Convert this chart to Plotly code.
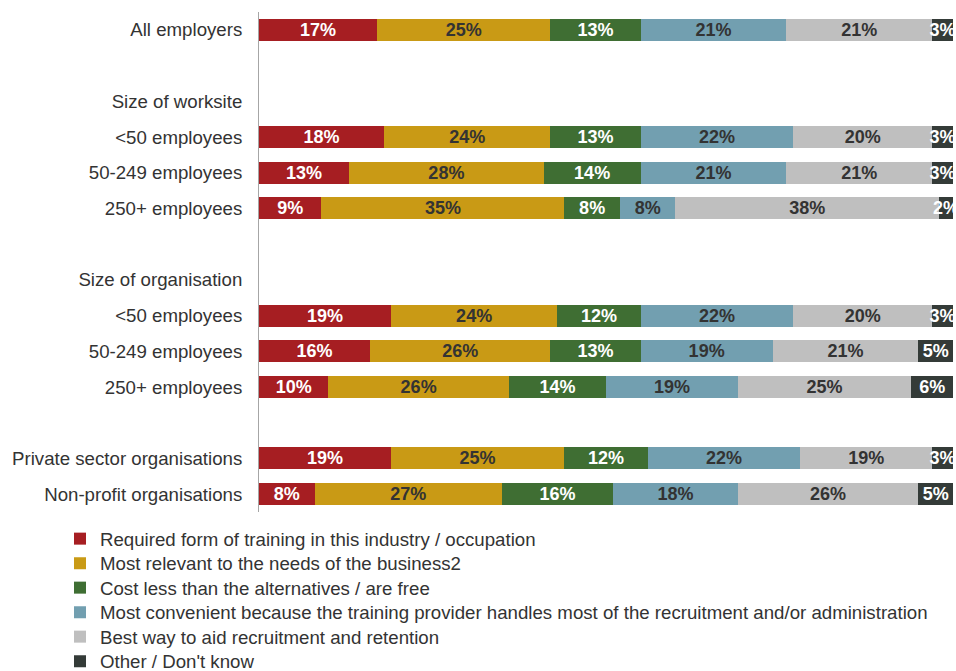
import plotly.graph_objects as go

row_labels = ["All employers", "", "Size of worksite", "<50 employees", "50-249 employees",
              "250+ employees", "", "Size of organisation", "<50 employees", "50-249 employees",
              "250+ employees", "", "Private sector organisations", "Non-profit organisations"]

series_names = ["Required form of training in this industry / occupation",
                "Most relevant to the needs of the business2",
                "Cost less than the alternatives / are free",
                "Most convenient because the training provider handles most of the recruitment and/or administration",
                "Best way to aid recruitment and retention",
                "Other / Don't know"]

# values per row (None for header/blank rows)
required = [17, None, None, 18, 13, 9, None, None, 19, 16, 10, None, 19, 8]
relevant = [25, None, None, 24, 28, 35, None, None, 24, 26, 26, None, 25, 27]
cost = [13, None, None, 13, 14, 8, None, None, 12, 13, 14, None, 12, 16]
convenient = [21, None, None, 22, 21, 8, None, None, 22, 19, 19, None, 22, 18]
best_way = [21, None, None, 20, 21, 38, None, None, 20, 21, 25, None, 19, 26]
other = [3, None, None, 3, 3, 2, None, None, 3, 5, 6, None, 3, 5]

series_values = [required, relevant, cost, convenient, best_way, other]
colors = ["#A61E22", "#C99A15", "#3F6E33", "#729FB0", "#BFBFBF", "#343B38"]
text_colors = ["white", "#333333", "white", "#333333", "#333333", "white"]

y_pos = list(range(len(row_labels)))
base_font = "Liberation Sans, Arial, sans-serif"

W, H = 956, 671
ML, MR, MT, MB = 259, 3, 12, 159
plot_w = W - ML - MR
plot_h = H - MT - MB

fig = go.Figure()
legend_layout = {}
legend_centers_px = [539, 563.5, 588, 612.5, 637, 661.5]
for i, (name, vals, col, tcol) in enumerate(zip(series_names, series_values, colors, text_colors)):
    lname = "legend" if i == 0 else f"legend{i + 1}"
    fig.add_trace(go.Bar(
        y=y_pos, x=vals, orientation="h", name=name,
        marker=dict(color=col, line=dict(width=0)),
        text=[f"{v}%" if v is not None else "" for v in vals],
        textposition="inside", insidetextanchor="middle", textangle=0,
        textfont=dict(color=tcol, size=18, family=base_font),
        texttemplate="<b>%{text}</b>",
        cliponaxis=False,
        hoverinfo="skip",
        legend=lname,
    ))
    top_px = legend_centers_px[i] - 19
    legend_layout[lname] = dict(
        orientation="v", x=(60 - ML) / plot_w, xanchor="left",
        y=-(top_px - (MT + plot_h)) / plot_h, yanchor="top",
        font=dict(size=18.67, color="#333333", family=base_font),
        itemclick=False, bgcolor="rgba(0,0,0,0)",
    )

fig.update_layout(
    barmode="stack",
    bargap=0.384,
    width=W, height=H,
    margin=dict(l=ML, r=MR, t=MT, b=MB, autoexpand=False),
    plot_bgcolor="white", paper_bgcolor="white",
    uniformtext=dict(mode="show", minsize=18),
    showlegend=True,
    font=dict(family=base_font, color="#333333"),
    **legend_layout,
)
fig.update_xaxes(range=[0, 100], showticklabels=False, showgrid=False, zeroline=False, fixedrange=True)
fig.update_yaxes(tickvals=y_pos, ticktext=row_labels, autorange="reversed",
                 showgrid=False, zeroline=False, showline=True, linecolor="#A6A6A6", linewidth=1,
                 ticks="", ticklabelstandoff=12,
                 tickfont=dict(size=18.67, color="#333333", family=base_font))

fig.write_html("out.html", config={"displayModeBar": False},
               post_script="document.body.style.margin='0';document.body.style.overflow='hidden';")
